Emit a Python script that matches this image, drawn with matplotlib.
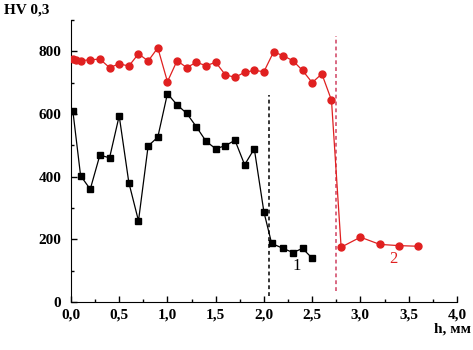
import matplotlib
matplotlib.use("Agg")
import matplotlib.pyplot as plt
from matplotlib.ticker import MultipleLocator

# series 1 (black squares)
h1 = [0.02, 0.1, 0.2, 0.3, 0.4, 0.5, 0.6, 0.7, 0.8, 0.9, 1.0, 1.1, 1.2, 1.3,
      1.4, 1.5, 1.6, 1.7, 1.8, 1.9, 2.0, 2.08, 2.2, 2.3, 2.4, 2.5]
hv1 = [609, 403, 360, 469, 460, 594, 381, 259, 498, 526, 665, 629, 602, 559,
       513, 489, 499, 516, 438, 489, 287, 187, 171, 158, 171, 140]

# series 2 (red circles)
h2 = [0.02, 0.05, 0.1, 0.2, 0.3, 0.4, 0.5, 0.6, 0.7, 0.8, 0.9, 1.0, 1.1, 1.2,
      1.3, 1.4, 1.5, 1.6, 1.7, 1.8, 1.9, 2.0, 2.1, 2.2, 2.3, 2.4, 2.5, 2.6,
      2.7, 2.8, 3.0, 3.2, 3.4, 3.6]
hv2 = [777, 772, 770, 773, 775, 748, 760, 753, 792, 769, 811, 703, 770, 748,
       765, 754, 765, 725, 717, 733, 739, 735, 798, 786, 770, 739, 700, 728,
       644, 175, 207, 184, 180, 178]

# boundaries (dashed)
b1 = 2.05
b2 = 2.75

red = '#e02020'
font = ['Liberation Serif', 'DejaVu Serif']

fig = plt.figure(figsize=(4.73, 3.5), dpi=100)
ax = fig.add_axes([0.150, 0.137, 0.816, 0.806])

ax.plot(h1, hv1, '-s', color='black', lw=0.9, ms=4.5, zorder=3)
ax.plot(h2, hv2, '-o', color=red, lw=0.9, ms=5, zorder=3)

ax.vlines(b1, 20, 660, colors='black', linestyles=(0, (2.5, 2)), lw=1.1)
ax.vlines(b2, 35, 850, colors='#d04060', linestyles=(0, (2.5, 2)), lw=1.1)

ax.text(2.34, 115, '1', color='black', fontsize=12, family=font, ha='center', va='center')
ax.text(3.34, 137, '2', color=red, fontsize=12, family=font, ha='center', va='center')

ax.set_xlim(0, 4)
ax.set_ylim(0, 900)
ax.xaxis.set_minor_locator(MultipleLocator(0.25))
ax.yaxis.set_minor_locator(MultipleLocator(100))
ax.set_yticks([0, 200, 400, 600, 800])
ax.set_xticks([0, 0.5, 1, 1.5, 2, 2.5, 3, 3.5, 4])
ax.set_xticklabels(['0,0', '0,5', '1,0', '1,5', '2,0', '2,5', '3,0', '3,5', '4,0'])

ax.spines['top'].set_visible(False)
ax.spines['right'].set_visible(False)
ax.tick_params(which='both', direction='in', width=1)
ax.tick_params(which='major', length=4, labelsize=11)
ax.tick_params(which='minor', length=2.5)
ax.tick_params(axis='x', which='major', pad=5)
ax.tick_params(axis='y', which='major', pad=7)
for lab in ax.get_xticklabels() + ax.get_yticklabels():
    lab.set_family(font)
    lab.set_fontweight('bold')

fig.text(0.008, 0.97, 'HV 0,3', fontsize=11, fontweight='bold', family=font, va='center', ha='left')
fig.text(0.995, 0.06, 'h, мм', fontsize=11, fontweight='bold', family=font, va='center', ha='right')

fig.savefig('out.png', dpi=100)
